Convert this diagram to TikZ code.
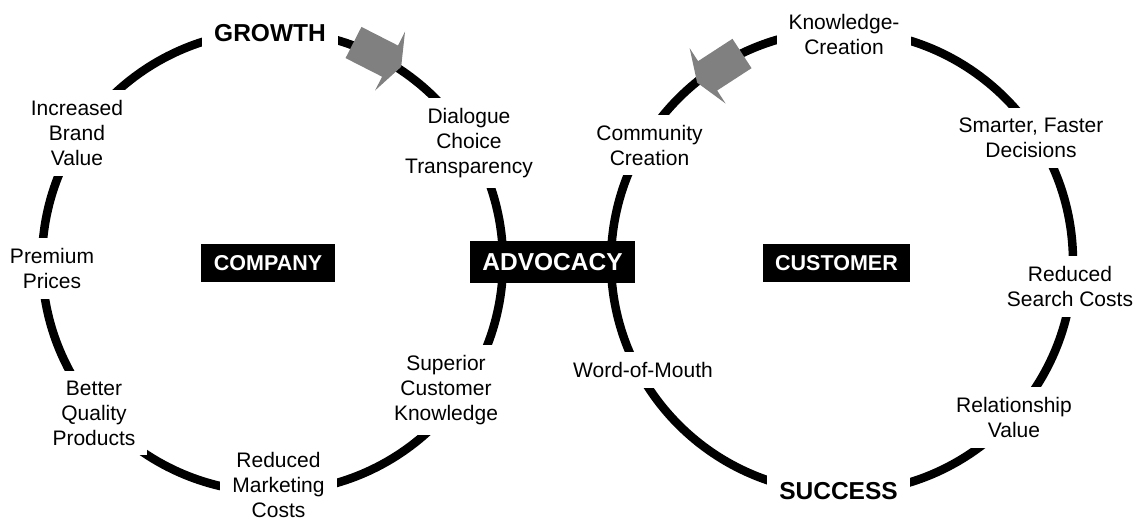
\documentclass[tikz,border=0pt]{standalone}
\usepackage{fontspec}
\setmainfont{Liberation Sans}
\begin{document}
\begin{tikzpicture}[x=1pt,y=1pt,
    ring/.style={line width=8.5pt},
    lab/.style={fill=white,align=center,inner xsep=12pt,inner ysep=10pt,font=\fontsize{21}{25}\selectfont},
    big/.style={fill=white,inner xsep=12pt,inner ysep=10pt,font=\fontsize{24.5}{29}\selectfont\bfseries},
    tag/.style={fill=black,text=white,inner sep=0pt,minimum height=38pt,font=\fontsize{21.5}{26}\selectfont\bfseries}]
\useasboundingbox (0,0) rectangle (1143,523);
\coordinate (lc) at (272.5,261.5);
\coordinate (rc) at (842,261.5);
\draw[ring] (lc) circle (230.5);
\draw[ring] (rc) circle (231);

\node[big] (growth) at (270,489.5) {GROWTH};
\node[big] (success) at (838.5,31.5) {SUCCESS};

\node[lab] (brand) at (77,390) {Increased\\Brand\\Value};
\node[lab] (prices) at (52,254.5) {Premium\\Prices};
\node[lab] (quality) at (94,110) {Better\\Quality\\Products};
\node[lab] (marketing) at (278.5,38) {Reduced\\Marketing\\Costs};
\node[lab] (knowledge) at (446,133) {Superior\\Customer\\Knowledge};
\node[lab] (dialogue) at (469,380) {Dialogue\\Choice\\Transparency};

\node[lab] (community) at (649.5,378) {Community\\Creation};
\node[lab] (kcreation) at (844,489) {Knowledge-\\Creation};
\node[lab] (decisions) at (1031,385) {Smarter, Faster\\Decisions};
\node[lab] (search) at (1070,236.5) {Reduced\\Search Costs};
\node[lab] (relation) at (1014,105.5) {Relationship\\Value};
\node[lab] (mouth) at (643,153) {Word-of-Mouth};

\node[tag,minimum width=134pt] (company) at (268,260) {COMPANY};
\node[tag,minimum width=165pt,minimum height=42pt,font=\fontsize{24.5}{29}\selectfont\bfseries] (advocacy) at (552.5,261) {ADVOCACY};
\node[tag,minimum width=147pt] (customer) at (836.5,260) {CUSTOMER};

\foreach \p/\a in {{353.5,480.5}/-27,{742,469.5}/213}
{
    \fill[gray,shift={(\p)},rotate=\a](0,-17.5)--(41,-17.5)--(41,-33)--(53.5,0)--(41,33)--(41,17.5)--(0,17.5)--cycle;
}
\end{tikzpicture}
\end{document}
